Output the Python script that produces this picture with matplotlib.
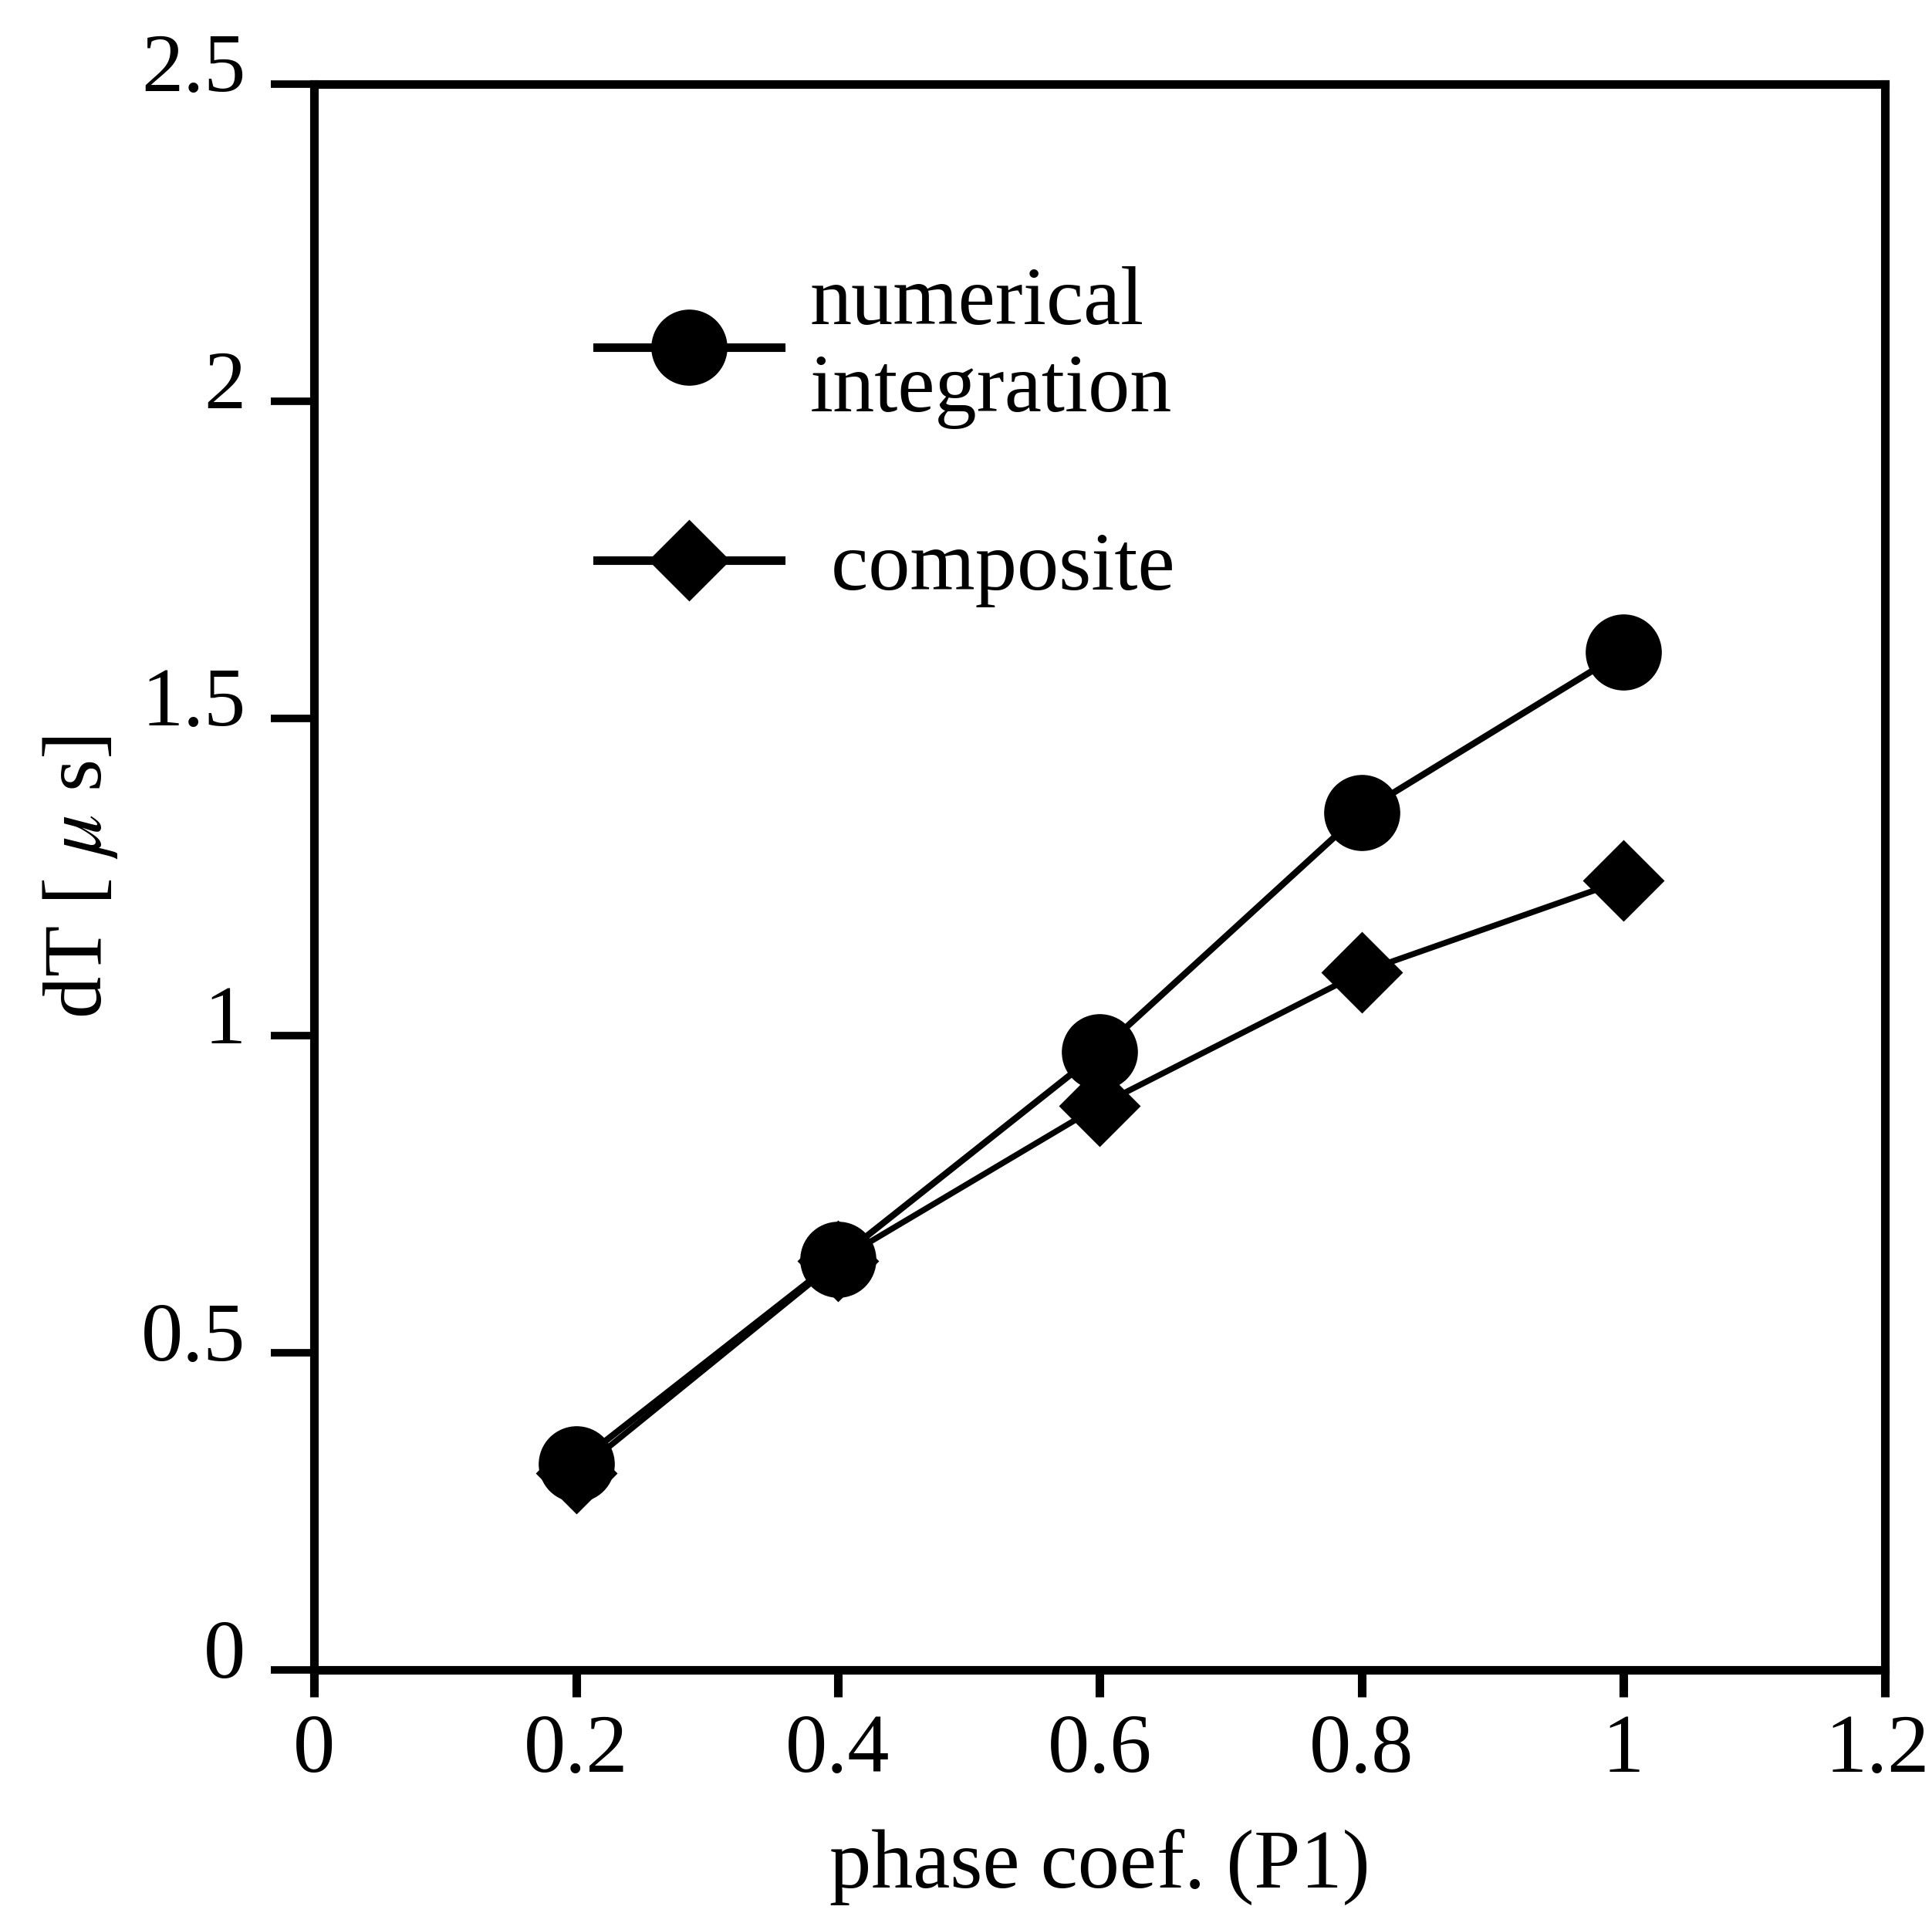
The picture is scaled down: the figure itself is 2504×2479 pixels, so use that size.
import matplotlib

matplotlib.use("Agg")
import matplotlib.pyplot as plt
from matplotlib.transforms import ScaledTranslation

plt.rcParams["font.family"] = ["Liberation Serif", "DejaVu Serif"]
plt.rcParams["mathtext.fontset"] = "stix"

# values
phase_coef = [0.2, 0.4, 0.6, 0.8, 1.0]
dt_numerical = [0.325, 0.648, 0.975, 1.352, 1.605]
dt_composite = [0.31, 0.645, 0.89, 1.10, 1.245]

x_ticks = [0, 0.2, 0.4, 0.6, 0.8, 1.0, 1.2]
x_tick_labels = ["0", "0.2", "0.4", "0.6", "0.8", "1", "1.2"]
y_ticks = [0, 0.5, 1.0, 1.5, 2.0, 2.5]
y_tick_labels = ["0", "0.5", "1", "1.5", "2", "2.5"]

FS = 78

fig = plt.figure(figsize=(25.04, 24.79), dpi=100)
ax = fig.add_axes([0.1626, 0.1269, 0.8132, 0.8293])

# composite first so the circles sit on top where they overlap
line_comp, = ax.plot(phase_coef, dt_composite, color="black", lw=5.5,
                     marker="D", ms=52, mew=2, mfc="black", mec="black", zorder=3)
line_num, = ax.plot(phase_coef, dt_numerical, color="black", lw=6,
                    marker="o", ms=70, mew=1, mfc="black", mec="black", zorder=4)

ax.set_xlim(0, 1.2)
ax.set_ylim(0, 2.5)
ax.set_xticks(x_ticks)
ax.set_xticklabels(x_tick_labels)
ax.set_yticks(y_ticks)
ax.set_yticklabels(y_tick_labels)

for side in ["left", "bottom", "top", "right"]:
    ax.spines[side].set_linewidth(8)
ax.tick_params(axis="x", direction="out", length=25, width=8, pad=16, labelsize=FS)
ax.tick_params(axis="y", direction="out", length=40, width=7, pad=24, labelsize=FS)

# y tick labels sit a bit above their ticks in the original
shift = ScaledTranslation(0, 0.28, fig.dpi_scale_trans)
for lab in ax.get_yticklabels():
    lab.set_transform(lab.get_transform() + shift)
# keep the last x label inside the canvas
last = ax.get_xticklabels()[-1]
last.set_transform(last.get_transform() + ScaledTranslation(-0.1, 0, fig.dpi_scale_trans))

ax.set_xlabel("phase coef. (P1)", fontsize=FS)
ax.xaxis.set_label_coords(0.5, -0.1)
ax.xaxis.label.set_va("top")
ax.set_ylabel("dT [ $\\mu$ s]", fontsize=FS)
ax.yaxis.set_label_coords(-0.124, 0.5)

leg = ax.legend([line_num, line_comp], ["numerical\nintegration", " composite"],
                loc="upper left", bbox_to_anchor=(0.18, 0.885), frameon=False,
                fontsize=FS, handlelength=2.2, handletextpad=0.35,
                labelspacing=1.22, borderpad=0, borderaxespad=0, numpoints=1)
for ln in leg.get_lines():
    ln.set_linewidth(8)

fig.savefig("out.png", dpi=100, facecolor="white")
